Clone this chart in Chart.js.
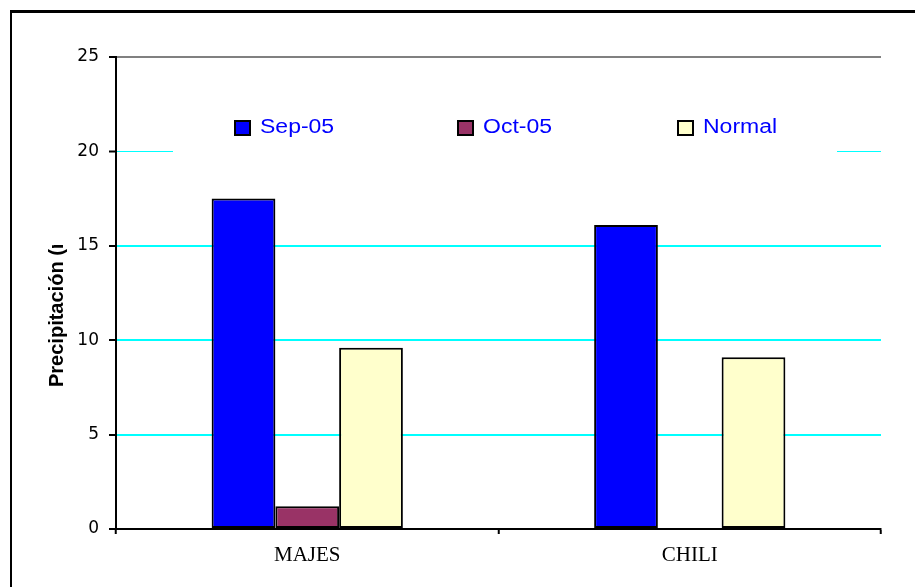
<!DOCTYPE html>
<html>
<head>
<meta charset="utf-8">
<script src="https://cdn.jsdelivr.net/npm/chart.js@4"></script>
<style>
  html, body { margin: 0; padding: 0; background: #fff; }
  #wrap { position: relative; width: 915px; height: 587px; overflow: hidden; }
  #frame { position: absolute; left: 10px; top: 10px; width: 1000px; height: 1000px;
           border-left: 2px solid #000; border-top: 3px solid #000; pointer-events: none; }
  canvas { position: absolute; left: 0; top: 0; }
</style>
</head>
<body>
<div id="wrap">
  <canvas id="chart" width="915" height="587"></canvas>
  <div id="frame"></div>
</div>
<script>
const categories = ['MAJES', 'CHILI'];
const sep05 = [17.5, 16.1];
const oct05 = [1.2, null];
const normal = [9.6, 9.1];
const seriesNames = ['Sep-05', 'Oct-05', 'Normal'];
const yTitle = 'Precipitación (mm)';

// legend text in the original is a bit wide
const stretch = 1.15;

// legend sits inside the plot on a white box, like the original sheet
const insideLegend = {
  id: 'insideLegend',
  afterDatasetsDraw(chart) {
    const ctx = chart.ctx;
    ctx.save();
    ctx.fillStyle = '#fff';
    ctx.fillRect(173, 108, 664, 46);
    const xs = [235, 458, 678];
    ctx.textBaseline = 'middle';
    chart.data.datasets.forEach((ds, i) => {
      ctx.fillStyle = ds.backgroundColor;
      ctx.fillRect(xs[i], 121, 15, 14);
      ctx.strokeStyle = '#000';
      ctx.lineWidth = 2;
      ctx.strokeRect(xs[i], 121, 15, 14);
      ctx.save();
      ctx.translate(xs[i] + 25, 127);
      ctx.scale(stretch, 1);
      ctx.font = '20px Arial, "Liberation Sans"';
      ctx.fillStyle = '#0000FF';
      ctx.fillText(ds.label, 0, 0);
      ctx.restore();
    });
    ctx.restore();
  }
};

// axis title is cut off at the top in the original
const clippedTitle = {
  id: 'clippedTitle',
  afterDraw(chart) {
    const ctx = chart.ctx;
    ctx.save();
    ctx.beginPath();
    ctx.rect(30, 245, 60, 200);
    ctx.clip();
    ctx.translate(63, 387);
    ctx.rotate(-Math.PI / 2);
    ctx.font = 'bold 20px Arial, "Liberation Sans"';
    ctx.fillStyle = '#000';
    ctx.textBaseline = 'alphabetic';
    ctx.fillText(yTitle, 0, 0);
    ctx.restore();
  }
};

const data = {
  labels: categories,
  datasets: [
    { label: seriesNames[0], data: sep05, backgroundColor: '#0000FF' },
    { label: seriesNames[1], data: oct05, backgroundColor: '#993366' },
    { label: seriesNames[2], data: normal, backgroundColor: '#FFFFCC' }
  ].map(d => Object.assign(d, {
    borderColor: '#000', borderWidth: 2, borderSkipped: false,
    categoryPercentage: 0.5, barPercentage: 1.0
  }))
};

const config = {
  type: 'bar',
  data: data,
  options: {
    responsive: false,
    animation: false,
    layout: { padding: { top: 57, right: 34, left: 0, bottom: 0 } },
    plugins: { legend: { display: false }, tooltip: { enabled: false } },
    scales: {
      y: {
        min: 0, max: 25,
        afterFit(scale) { scale.width = 116; },
        ticks: {
          stepSize: 5, padding: 10, color: '#000',
          font: { family: '"DejaVu Sans"', size: 17 }
        },
        grid: {
          tickLength: 7, tickColor: '#000', tickWidth: 2,
          color: c => c.tick.value === 25 ? '#808080' : (c.tick.value === 0 ? 'transparent' : '#00FFFF'),
          lineWidth: c => c.tick.value === 20 ? 1 : 2
        },
        border: { color: '#000', width: 2 }
      },
      x: {
        afterFit(scale) { scale.height = 58; },
        ticks: {
          padding: 9, color: '#000',
          font: { family: '"Liberation Serif", "Times New Roman", serif', size: 21 }
        },
        grid: {
          offset: true, tickLength: 5, tickColor: '#000', tickWidth: 2,
          color: c => c.index === 2 ? '#808080' : 'transparent',
          lineWidth: 1.5
        },
        border: { color: '#000', width: 2 }
      }
    }
  },
  plugins: [insideLegend, clippedTitle]
};

const ctx = document.getElementById('chart').getContext('2d');
window.precipChart = new Chart(ctx, config);
</script>
</body>
</html>
